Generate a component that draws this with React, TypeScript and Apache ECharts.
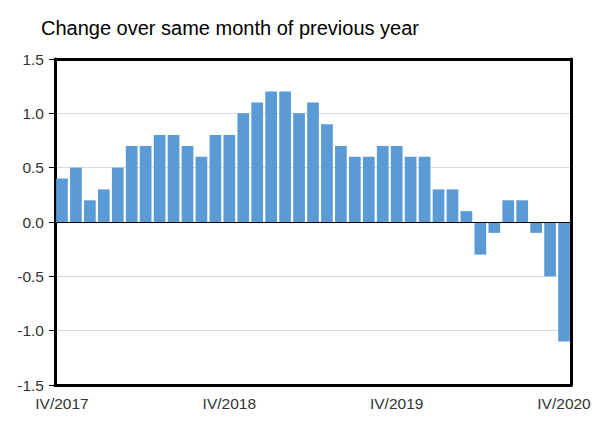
import React, { useEffect, useRef } from "react";
import * as echarts from "echarts";

const categories = [
  "IV/2017", "V/2017", "VI/2017", "VII/2017", "VIII/2017", "IX/2017", "X/2017", "XI/2017", "XII/2017",
  "I/2018", "II/2018", "III/2018", "IV/2018", "V/2018", "VI/2018", "VII/2018", "VIII/2018", "IX/2018",
  "X/2018", "XI/2018", "XII/2018", "I/2019", "II/2019", "III/2019", "IV/2019", "V/2019", "VI/2019",
  "VII/2019", "VIII/2019", "IX/2019", "X/2019", "XI/2019", "XII/2019", "I/2020", "II/2020", "III/2020",
  "IV/2020",
];

const values = [
  0.4, 0.5, 0.2, 0.3, 0.5, 0.7, 0.7, 0.8, 0.8, 0.7, 0.6, 0.8, 0.8, 1.0, 1.1, 1.2, 1.2, 1.0, 1.1,
  0.9, 0.7, 0.6, 0.6, 0.7, 0.7, 0.6, 0.6, 0.3, 0.3, 0.1, -0.3, -0.1, 0.2, 0.2, -0.1, -0.5, -1.1,
];

const shownLabels = ["IV/2017", "IV/2018", "IV/2019", "IV/2020"];

const titleText = "Change over same month of previous year";

export default function App() {
  const ref = useRef<HTMLDivElement>(null);
  useEffect(() => {
    if (!ref.current) return;
    const chart = echarts.init(ref.current, null, { renderer: "svg" });
    const font = "'Liberation Sans', Arial, sans-serif";
    const frame = { show: true, onZero: false, lineStyle: { color: "#000", width: 3 } };
    chart.setOption({
      animation: false,
      backgroundColor: "#ffffff",
      title: {
        text: titleText,
        left: 36,
        top: 13,
        textStyle: { fontFamily: font, fontSize: 20, fontWeight: "normal", color: "#000" },
      },
      grid: {
        left: 55,
        right: 29,
        top: 59,
        bottom: 46,
        show: false,
      },
      xAxis: [
        {
          type: "category",
          data: categories,
          boundaryGap: true,
          position: "bottom",
          axisLine: frame,
          axisTick: { show: false },
          axisLabel: {
            interval: 0,
            formatter: (v: string) => (shownLabels.includes(v) ? v : ""),
            fontFamily: font,
            fontSize: 15.5,
            color: "#333",
            margin: 10,
          },
          splitLine: { show: false },
        },
        {
          type: "category",
          data: categories,
          position: "top",
          axisLine: frame,
          axisTick: { show: false },
          axisLabel: { show: false },
          splitLine: { show: false },
        },
      ],
      yAxis: [
        {
          type: "value",
          min: -1.5,
          max: 1.5,
          interval: 0.5,
          position: "left",
          axisLine: frame,
          axisTick: { show: true, length: 6, lineStyle: { color: "#000", width: 1 } },
          axisLabel: {
            fontFamily: font,
            fontSize: 15.5,
            color: "#333",
            margin: 11,
            formatter: (v: number) => v.toFixed(1),
          },
          splitLine: { show: true, lineStyle: { color: "#d9d9d9", width: 1 } },
        },
        {
          type: "value",
          min: -1.5,
          max: 1.5,
          interval: 0.5,
          position: "right",
          axisLine: frame,
          axisTick: { show: false },
          axisLabel: { show: false },
          splitLine: { show: false },
        },
      ],
      series: [
        {
          type: "bar",
          data: values,
          barCategoryGap: "16%",
          itemStyle: { color: "#5b9bd5" },
          markLine: {
            silent: true,
            symbol: "none",
            label: { show: false },
            lineStyle: { color: "#000", width: 1, type: "solid" },
            data: [{ yAxis: 0 }],
          },
        },
      ],
    });
    return () => chart.dispose();
  }, []);
  return (
    <div
      ref={ref}
      style={{ position: "fixed", left: 0, top: 0, width: 600, height: 431 }}
    />
  );
}
